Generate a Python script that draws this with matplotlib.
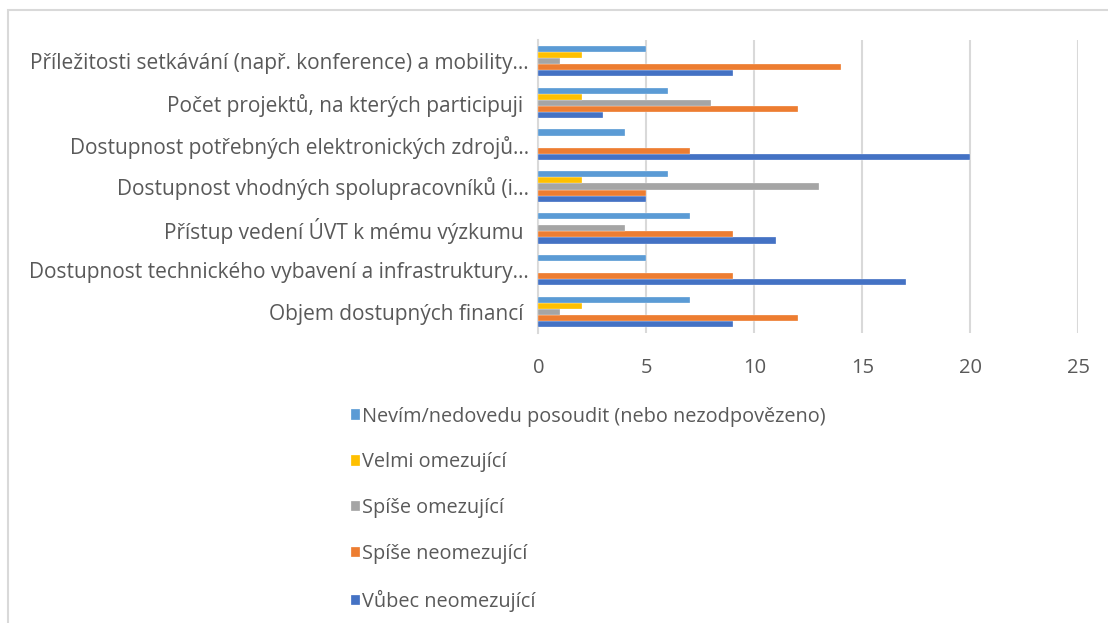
import matplotlib
matplotlib.use("Agg")
import matplotlib.pyplot as plt
import numpy as np
from matplotlib.patches import Rectangle

plt.rcParams["font.family"] = ["Open Sans", "DejaVu Sans"]

# Categories, bottom to top as drawn on the y axis
categories = [
    "Objem dostupných financí ",
    "Dostupnost technického vybavení a infrastruktury…",
    "Přístup vedení ÚVT k mému výzkumu ",
    "Dostupnost vhodných spolupracovníků (i…",
    "Dostupnost potřebných elektronických zdrojů…",
    "Počet projektů, na kterých participuji ",
    "Příležitosti setkávání (např. konference) a mobility…",
]

series_names = [
    "Vůbec neomezující",
    "Spíše neomezující",
    "Spíše omezující",
    "Velmi omezující",
    "Nevím/nedovedu posoudit (nebo nezodpovězeno)",
]

vubec_neomezujici = [9, 17, 11, 5, 20, 3, 9]
spise_neomezujici = [12, 9, 9, 5, 7, 12, 14]
spise_omezujici = [1, 0, 4, 13, 0, 8, 1]
velmi_omezujici = [2, 0, 0, 2, 0, 2, 2]
nevim = [7, 5, 7, 6, 4, 6, 5]

series_values = [vubec_neomezujici, spise_neomezujici, spise_omezujici,
                 velmi_omezujici, nevim]
colors = ["#4472C4", "#ED7D31", "#A5A5A5", "#FFC000", "#5B9BD5"]

text_color = "#595959"
grid_color = "#D9D9D9"

fig = plt.figure(figsize=(11.08, 6.23), dpi=100)
ax = fig.add_axes([0.486, 0.4655, 0.4872, 0.4703])

y = np.arange(len(categories))
bar_h = 0.145
handles = []
for i, (name, vals, col) in enumerate(zip(series_names, series_values, colors)):
    offset = (i - 2) * bar_h
    h = ax.barh(y + offset, vals, height=bar_h, color=col, label=name,
                edgecolor="white", linewidth=0.2, zorder=3)
    handles.append(h)

ax.set_xlim(0, 25)
ax.set_ylim(-0.5, len(categories) - 0.5)
ax.set_xticks(range(0, 26, 5))
ax.set_yticks(y)
ax.set_yticklabels(categories)
ax.tick_params(axis="both", length=0, colors=text_color)
ax.tick_params(axis="y", pad=7, labelsize=15)
ax.tick_params(axis="x", pad=18, labelsize=14.5)
ax.xaxis.grid(True, color=grid_color, linewidth=1.5, zorder=0)
for side in ["top", "right", "bottom"]:
    ax.spines[side].set_visible(False)
ax.spines["left"].set_color(grid_color)
ax.spines["left"].set_linewidth(1.5)

# Legend stacked vertically below the plot, first series at the top
leg = fig.legend(handles[::-1], series_names[::-1], loc="upper left",
                 bbox_to_anchor=(0.310, 0.36), frameon=False,
                 fontsize=14.3, labelcolor=text_color,
                 handlelength=0.42, handleheight=0.42, handletextpad=0.1,
                 labelspacing=1.3, borderaxespad=0)

# Chart area border
fig.add_artist(Rectangle((8 / 1108, -0.05), 1.2, 1 - 10 / 623 + 0.05,
                         transform=fig.transFigure, fill=False,
                         edgecolor=grid_color, linewidth=1.5))

fig.savefig("out.png", dpi=100, facecolor="white")
